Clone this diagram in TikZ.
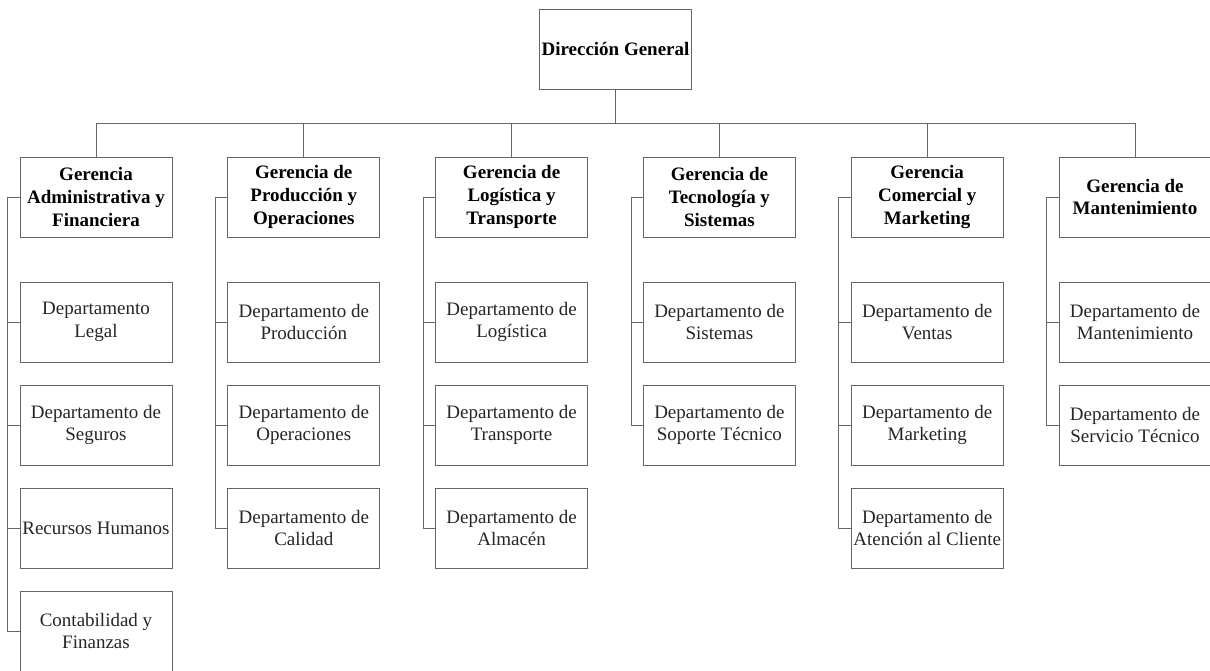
\documentclass[tikz,border=0pt]{standalone}
\usepackage{fontspec}
\setmainfont{Liberation Serif}
\begin{document}
\begin{tikzpicture}[x=1pt,y=-1pt,
  box/.style={draw=black!60, line width=0.9pt, fill=white, minimum width=152pt, minimum height=80pt,
    inner sep=1pt, align=center, font=\fontsize{19}{22.7}\selectfont, text=black!85},
  mgr/.style={box, font=\fontsize{19}{22.7}\selectfont\bfseries, text=black},
  link/.style={draw=black!60, line width=0.9pt}]
\useasboundingbox (0,0) rectangle (1210,671);
\def\cs{207.8}
% top
\node[mgr] (dg) at (615.5,49) {Dirección General};
% managers
\node[mgr] (g1) at ({20+0*\cs+76},197) {Gerencia\\Administrativa y\\Financiera};
\node[mgr] (g2) at ({20+1*\cs+76},197) {Gerencia de\\Producción y\\Operaciones};
\node[mgr] (g3) at ({20+2*\cs+76},197) {Gerencia de\\Logística y\\Transporte};
\node[mgr] (g4) at ({20+3*\cs+76},197) {Gerencia de\\Tecnología y\\Sistemas};
\node[mgr] (g5) at ({20+4*\cs+76},197) {Gerencia\\Comercial y\\Marketing};
\node[mgr] (g6) at ({20+5*\cs+76},197) {Gerencia de\\Mantenimiento};
% departments col 1
\node[box] (d11) at ({20+0*\cs+76},322) {Departamento\\Legal};
\node[box] (d12) at ({20+0*\cs+76},425) {Departamento de\\Seguros};
\node[box] (d13) at ({20+0*\cs+76},528) {Recursos Humanos};
\node[box] (d14) at ({20+0*\cs+76},631) {Contabilidad y\\Finanzas};
% col 2
\node[box] (d21) at ({20+1*\cs+76},322) {Departamento de\\Producción};
\node[box] (d22) at ({20+1*\cs+76},425) {Departamento de\\Operaciones};
\node[box] (d23) at ({20+1*\cs+76},528) {Departamento de\\Calidad};
% col 3
\node[box] (d31) at ({20+2*\cs+76},322) {Departamento de\\Logística};
\node[box] (d32) at ({20+2*\cs+76},425) {Departamento de\\Transporte};
\node[box] (d33) at ({20+2*\cs+76},528) {Departamento de\\Almacén};
% col 4
\node[box] (d41) at ({20+3*\cs+76},322) {Departamento de\\Sistemas};
\node[box] (d42) at ({20+3*\cs+76},425) {Departamento de\\Soporte Técnico};
% col 5
\node[box] (d51) at ({20+4*\cs+76},322) {Departamento de\\Ventas};
\node[box] (d52) at ({20+4*\cs+76},425) {Departamento de\\Marketing};
\node[box] (d53) at ({20+4*\cs+76},528) {Departamento de\\Atención al Cliente};
% col 6
\node[box] (d61) at ({20+5*\cs+76},322) {Departamento de\\Mantenimiento};
\node[box] (d62) at ({20+5*\cs+76},425) {Departamento de\\Servicio Técnico};
% top connectors
\coordinate (bus) at (615.5,123);
\draw[link] (dg.south) -- (bus);
\foreach \g in {g1,g2,g3,g4,g5,g6} {
  \draw[link] (\g.north) -- (\g.north |- bus);
}
\draw[link] (g1.north |- bus) -- (g6.north |- bus);
% side connectors
\foreach \g/\last/\list in {g1/d14/{d11,d12,d13,d14}, g2/d23/{d21,d22,d23}, g3/d33/{d31,d32,d33}, g4/d42/{d41,d42}, g5/d53/{d51,d52,d53}, g6/d62/{d61,d62}} {
  \draw[link] (\g.west) -- ++(-12,0) |- (\last.west);
  \foreach \d in \list {
    \draw[link] ([xshift=-12pt]\g.west |- \d.west) -- (\d.west);
  }
}
\end{tikzpicture}
\end{document}
